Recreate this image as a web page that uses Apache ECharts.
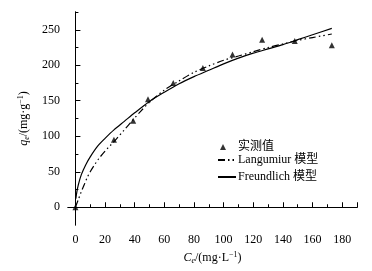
<!DOCTYPE html>
<html>
<head>
<meta charset="utf-8">
<script src="https://cdn.jsdelivr.net/npm/echarts@6/dist/echarts.min.js"></script>
<style>
  html, body { margin: 0; padding: 0; background: #fff; }
  #main { width: 372px; height: 271px; }
</style>
</head>
<body>
<div id="main"></div>
<script>
// 实测值
const ceObs = [0, 26, 39, 49, 66, 86, 106, 126, 148, 173];
const qeObs = [0, 95, 122, 152, 175, 196, 215, 236, 234, 228];
// Langmuir 模型曲线
const langCe = [0, 2, 4, 6, 8, 10, 13, 16, 20, 24, 28, 33, 38, 44, 50, 60, 70, 80, 90, 100, 110, 120, 130, 140, 150, 160, 173];
const langQe = [0, 11, 22, 32, 42, 50, 60, 69, 79, 88, 97, 109, 121, 135, 148, 165, 178, 190, 199, 207, 213, 219, 225, 230, 235, 239, 244];
// Freundlich 模型曲线
const freCe = [0.3, 1, 2, 4, 7, 10, 15, 20, 26, 33, 40, 50, 60, 70, 80, 90, 100, 110, 120, 130, 140, 150, 160, 173];
const freQe = [12, 22, 32, 46, 60, 71, 86, 97, 109, 121, 133, 149, 162, 174, 184, 193, 202, 210, 217, 223, 229, 236, 243, 252];
// 刻度
const xMajor = [0, 20, 40, 60, 80, 100, 120, 140, 160, 180];
const xMinor = [10, 30, 50, 70, 90, 110, 130, 150, 170, 190];
const yMajor = [0, 50, 100, 150, 200, 250];
const yMinor = [25, 75, 125, 175, 225, 275];

const pairs = (xs, ys) => xs.map((x, i) => [x, ys[i]]);

const chartDom = document.getElementById('main');
const myChart = echarts.init(chartDom);

const font = '"Liberation Serif", "Noto Sans CJK SC", serif';
const rich = {
  i: { fontStyle: 'italic', fontSize: 12, fontFamily: font, color: '#000' },
  s: { fontStyle: 'italic', fontSize: 8, fontFamily: font, color: '#000', verticalAlign: 'bottom', padding: [6, 0, 0, 0] },
  n: { fontSize: 12, fontFamily: font, color: '#000' },
  sup: { fontSize: 8, fontFamily: font, color: '#000', verticalAlign: 'top', padding: [0, 0, 6, 0] }
};

const baseX = {
  type: 'value', min: -5, max: 190,
  axisLine: { show: true, lineStyle: { color: '#000', width: 1 } },
  splitLine: { show: false }
};
const baseY = {
  type: 'value', min: -25, max: 275,
  axisLine: { show: true, lineStyle: { color: '#000', width: 1 } },
  splitLine: { show: false }
};
const legendText = { fontFamily: font, fontSize: 12, color: '#000' };

var option = {
  backgroundColor: '#fff',
  animation: false,
  grid: { left: 68, right: 15, top: 12, bottom: 46 },
  legend: [
    {
      left: 215,
      top: 136,
      itemWidth: 6,
      itemHeight: 6,
      itemGap: 0,
      textStyle: Object.assign({ padding: [0, 0, 0, 7] }, legendText),
      data: [{ name: '实测值', icon: 'triangle' }]
    },
    {
      orient: 'vertical',
      left: 212,
      top: 149,
      itemWidth: 18,
      itemHeight: 10,
      itemGap: 5,
      textStyle: Object.assign({ padding: [0, 0, 0, -3] }, legendText),
      data: [
        { name: 'Langumiur 模型', itemStyle: { opacity: 0 } },
        { name: 'Freundlich 模型', itemStyle: { opacity: 0 } }
      ]
    }
  ],
  xAxis: [
    Object.assign({}, baseX, {
      name: '{i|C}{s|e}{n|/(mg·L}{sup|−1}{n|)}',
      nameLocation: 'middle',
      nameGap: 26,
      nameTextStyle: { rich: rich },
      axisTick: { show: true, inside: true, length: 5, customValues: xMajor.concat([190]), lineStyle: { color: '#000' } },
      axisLabel: { customValues: xMajor, color: '#000', fontFamily: font, fontSize: 12, margin: 9 }
    }),
    Object.assign({}, baseX, {
      position: 'bottom',
      axisTick: { show: true, inside: true, length: 3, customValues: xMinor, lineStyle: { color: '#000' } },
      axisLabel: { show: false }
    })
  ],
  yAxis: [
    Object.assign({}, baseY, {
      name: '{i|q}{s|e}{n|/(mg·g}{sup|−1}{n|)}',
      nameLocation: 'middle',
      nameGap: 27,
      nameRotate: 90,
      nameTextStyle: { rich: rich },
      axisTick: { show: true, inside: true, length: 5, customValues: yMajor, lineStyle: { color: '#000' } },
      axisLabel: { customValues: yMajor, color: '#000', fontFamily: font, fontSize: 12, margin: 8 }
    }),
    Object.assign({}, baseY, {
      position: 'left',
      axisTick: { show: true, inside: true, length: 3, customValues: yMinor, lineStyle: { color: '#000' } },
      axisLabel: { show: false }
    })
  ],
  series: [
    {
      name: '实测值',
      type: 'scatter',
      symbol: 'triangle',
      symbolSize: 6,
      itemStyle: { color: '#000' },
      data: pairs(ceObs, qeObs),
      z: 5
    },
    {
      name: 'Langumiur 模型',
      type: 'line',
      smooth: 0.3,
      symbol: 'none',
      itemStyle: { color: '#000' },
      lineStyle: { color: '#000', width: 1.2, type: [7, 3, 1.5, 3, 1.5, 3] },
      data: pairs(langCe, langQe)
    },
    {
      name: 'Freundlich 模型',
      type: 'line',
      smooth: 0.3,
      symbol: 'none',
      itemStyle: { color: '#000' },
      lineStyle: { color: '#000', width: 1.2, type: 'solid' },
      data: pairs(freCe, freQe)
    }
  ]
};

option && myChart.setOption(option);
</script>
</body>
</html>
